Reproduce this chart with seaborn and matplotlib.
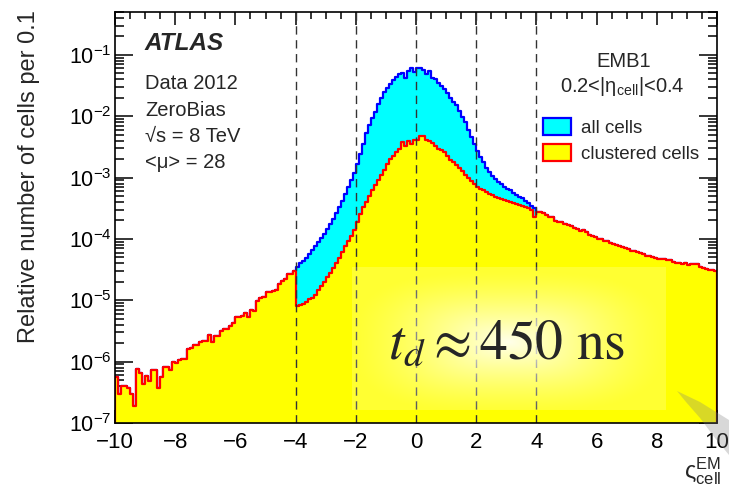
import numpy as np
import matplotlib
matplotlib.use("Agg")
import matplotlib.pyplot as plt
from matplotlib.patches import Patch, Polygon
from matplotlib.ticker import MultipleLocator, LogLocator, LogFormatterSciNotation, NullFormatter
import seaborn as sns

# ---------------------------------------------------------------------------
# Data: relative number of cells per 0.1-wide bin of the cell significance,
# stored as log10 values.
# ---------------------------------------------------------------------------
x_min, x_max, n_bins = -10.0, 10.0, 200

# -10 < x < -4 (all cells and clustered cells coincide)
log_tail_left = [
    -6.25, -6.53, -6.39, -6.39, -6.43, -6.52, -6.72, -6.12, -6.18, -6.36,
    -6.23, -6.31, -6.13, -6.13, -6.43, -6.25, -6.08, -6.08, -6.13, -6.00,
    -6.03, -5.97, -5.95, -5.95, -5.80, -5.77, -5.73, -5.73, -5.68, -5.67,
    -5.67, -5.57, -5.68, -5.58, -5.58, -5.50, -5.47, -5.47, -5.42, -5.37,
    -5.28, -5.28, -5.25, -5.21, -5.27, -5.16, -5.17, -5.01, -4.97, -4.94,
    -4.87, -4.87, -4.85, -4.83, -4.74, -4.69, -4.65, -4.57, -4.57, -4.53,
]

# -4 < x < 4, all cells
log_all_core = [
    -4.45, -4.40, -4.36, -4.31, -4.25, -4.18, -4.11, -4.05, -3.99, -3.92,
    -3.84, -3.76, -3.67, -3.58, -3.48, -3.38, -3.27, -3.16, -3.04, -2.92,
    -2.78, -2.62, -2.45, -2.28, -2.15, -2.03, -1.93, -1.80, -1.70, -1.61,
    -1.54, -1.48, -1.41, -1.36, -1.31, -1.30, -1.37, -1.27, -1.21, -1.28,
    -1.22, -1.21, -1.24, -1.31, -1.26, -1.37, -1.39, -1.46, -1.50, -1.55,
    -1.62, -1.70, -1.76, -1.82, -1.92, -2.02, -2.10, -2.22, -2.34, -2.46,
    -2.56, -2.66, -2.75, -2.84, -2.91, -2.97, -3.02, -3.07, -3.11, -3.15,
    -3.18, -3.21, -3.25, -3.28, -3.31, -3.34, -3.38, -3.42, -3.46, -3.50,
]

# -4 < x < 4, clustered cells
log_clustered_core = [
    -5.09, -5.07, -5.06, -5.02, -4.98, -4.96, -4.91, -4.84, -4.77, -4.70,
    -4.62, -4.55, -4.47, -4.39, -4.31, -4.22, -4.12, -4.04, -3.95, -3.85,
    -3.72, -3.60, -3.48, -3.40, -3.30, -3.21, -3.12, -3.04, -2.96, -2.87,
    -2.78, -2.70, -2.64, -2.58, -2.53, -2.42, -2.49, -2.40, -2.46, -2.38,
    -2.38, -2.33, -2.33, -2.39, -2.40, -2.44, -2.48, -2.53, -2.55, -2.59,
    -2.65, -2.71, -2.74, -2.79, -2.84, -2.90, -2.95, -3.01, -3.06, -3.11,
    -3.15, -3.18, -3.21, -3.24, -3.26, -3.28, -3.31, -3.33, -3.35, -3.36,
    -3.38, -3.40, -3.42, -3.43, -3.45, -3.46, -3.48, -3.50, -3.53, -3.64,
]

# 4 < x < 10 (all cells and clustered cells coincide)
log_tail_right = [
    -3.56, -3.56, -3.58, -3.61, -3.64, -3.65, -3.70, -3.73, -3.73, -3.75,
    -3.77, -3.79, -3.82, -3.84, -3.87, -3.86, -3.88, -3.94, -3.96, -3.97,
    -4.00, -4.00, -4.03, -4.04, -4.06, -4.09, -4.10, -4.12, -4.13, -4.15,
    -4.17, -4.20, -4.19, -4.22, -4.23, -4.25, -4.27, -4.28, -4.30, -4.31,
    -4.33, -4.32, -4.33, -4.34, -4.35, -4.38, -4.39, -4.40, -4.41, -4.39,
    -4.42, -4.41, -4.41, -4.41, -4.45, -4.47, -4.49, -4.50, -4.50, -4.52,
]

boundary_x = [-4, -2, 0, 2, 4]
x_ticks = [-10, -8, -6, -4, -2, 0, 2, 4, 6, 8, 10]
legend_labels = ["all cells", "clustered cells"]
info_lines = ["Data 2012", "ZeroBias", "√s = 8 TeV", "<μ> = 28"]

# ---------------------------------------------------------------------------
edges = [round(v, 6) for v in np.linspace(x_min, x_max, n_bins + 1)]
centers = 0.5 * (np.array(edges[:-1]) + np.array(edges[1:]))
all_cells = 10.0 ** np.array(log_tail_left + log_all_core + log_tail_right)
clustered_cells = 10.0 ** np.array(log_tail_left + log_clustered_core + log_tail_right)

sns.set_style("ticks")
plt.rcParams["font.family"] = ["Liberation Sans", "DejaVu Sans"]
plt.rcParams["mathtext.fontset"] = "custom"
plt.rcParams["mathtext.rm"] = "Liberation Sans"
plt.rcParams["mathtext.it"] = "Liberation Sans:italic"
plt.rcParams["mathtext.bf"] = "Liberation Sans:bold"

W, H = 729, 500
fig = plt.figure(figsize=(W / 100, H / 100), dpi=100)
fig.patch.set_facecolor("white")


def fx(px):
    return px / W


def fy(py):
    return 1.0 - py / H


ax = fig.add_axes([fx(115), fy(423), fx(717) - fx(115), fy(12) - fy(423)])
ax.set_facecolor("white")

CYAN, BLUE = "#00ffff", "#0000ff"
YELLOW, RED = "#ffff00", "#ff0000"

sns.histplot(x=centers, weights=all_cells, bins=edges, element="step", fill=True,
             facecolor=CYAN, edgecolor=BLUE, linewidth=1.6, alpha=1, ax=ax, zorder=1)
sns.histplot(x=centers, weights=clustered_cells, bins=edges, element="step", fill=True,
             facecolor=YELLOW, edgecolor=RED, linewidth=1.6, alpha=1, ax=ax, zorder=2)

for xb in boundary_x:
    ax.axvline(xb, color="#333333", linewidth=1.0, linestyle=(0, (6, 4)), zorder=3)

ax.set_yscale("log")
ax.set_xlim(x_min, x_max)
ax.set_ylim(1e-7, 0.5)

ax.set_xticks(x_ticks)
ax.xaxis.set_minor_locator(MultipleLocator(0.5))
ax.yaxis.set_major_locator(LogLocator(base=10, numticks=20))
ax.yaxis.set_minor_locator(LogLocator(base=10, subs=np.arange(2, 10), numticks=20))
ax.yaxis.set_major_formatter(LogFormatterSciNotation())
ax.yaxis.set_minor_formatter(NullFormatter())

ax.tick_params(which="both", direction="in", top=True, right=True, colors="black",
               width=1.1)
ax.tick_params(axis="x", which="major", length=9.5, pad=6.5, labelsize=16)
ax.tick_params(axis="x", which="minor", length=5)
ax.tick_params(axis="y", which="major", length=13, pad=2.5, labelsize=15.5)
ax.tick_params(axis="y", which="minor", length=6.5)
for s in ax.spines.values():
    s.set_linewidth(1.2)
    s.set_color("black")
    s.set_zorder(5)

ax.set_ylabel("Relative number of cells per 0.1", fontsize=17, loc="top")
ax.yaxis.set_label_coords((40 - 115) / 602, 1.005)
ax.set_xlabel("ς$^{\\rm EM}_{\\rm cell}$", fontsize=17, loc="right")
ax.xaxis.set_label_coords((721 - 115) / 602, (423 - 455) / 411)
ax.xaxis.label.set_va("top")

# legend
handles = [Patch(facecolor=CYAN, edgecolor=BLUE, linewidth=1.6, label=legend_labels[0]),
           Patch(facecolor=YELLOW, edgecolor=RED, linewidth=1.6, label=legend_labels[1])]
ax.legend(handles=handles, loc="upper left", bbox_to_anchor=(fx(543), fy(118)),
          bbox_transform=fig.transFigure, frameon=False, fontsize=13.5,
          handlelength=1.5, handleheight=1.0, handletextpad=0.55,
          labelspacing=0.38, borderpad=0, borderaxespad=0)

# experiment labels
fig.text(fx(145), fy(50), "ATLAS", fontsize=17.5, fontweight="bold", fontstyle="italic",
         va="baseline")
for line, base in zip(info_lines, [89, 116, 142, 168]):
    fig.text(fx(145), fy(base), line, fontsize=14.5, va="baseline")
fig.text(fx(624), fy(67), "EMB1", fontsize=14.5, ha="center", va="baseline")
fig.text(fx(622), fy(92), "0.2<|η$_{\\rm cell}$|<0.4", fontsize=14.5, ha="center",
         va="baseline")

# soft white glow behind the annotation
gx0, gx1, gy0, gy1 = 352, 666, 267, 410
gw, gh = gx1 - gx0, gy1 - gy0
glow_ax = fig.add_axes([fx(gx0), fy(gy1), fx(gx1) - fx(gx0), fy(gy0) - fy(gy1)])
uu, vv = np.meshgrid(np.linspace(-1, 1, gw), np.linspace(-1, 1, gh))
uu = (uu * gw / 2 - (509 - (gx0 + gx1) / 2)) / (gw / 2)
vv = (vv * gh / 2 - (342 - (gy0 + gy1) / 2)) / (gh / 2)
dist = np.clip((np.abs(uu) ** 3 + np.abs(vv) ** 3) ** (1 / 3), 0, 1)
glow = np.ones((gh, gw, 4))
glow[..., 3] = 0.2 + 0.72 * (1 - dist) ** 1.3
glow_ax.imshow(glow, extent=(0, 1, 0, 1), aspect="auto", interpolation="bilinear")
glow_ax.set_axis_off()

fig.text(fx(507), fy(345), r"$t_d \approx 450\ \mathrm{ns}$", fontsize=40,
         math_fontfamily="stix", ha="center", va="center")

# grey pen stroke in the lower right corner
stroke = [(677, 391), (700, 402), (729, 420), (729, 455), (715, 438), (700, 418), (686, 402)]
fig.add_artist(Polygon([(fx(a), fy(b)) for a, b in stroke], closed=True,
                       transform=fig.transFigure, facecolor="#808080", alpha=0.3,
                       edgecolor="none"))

fig.savefig("out.png", dpi=100)
